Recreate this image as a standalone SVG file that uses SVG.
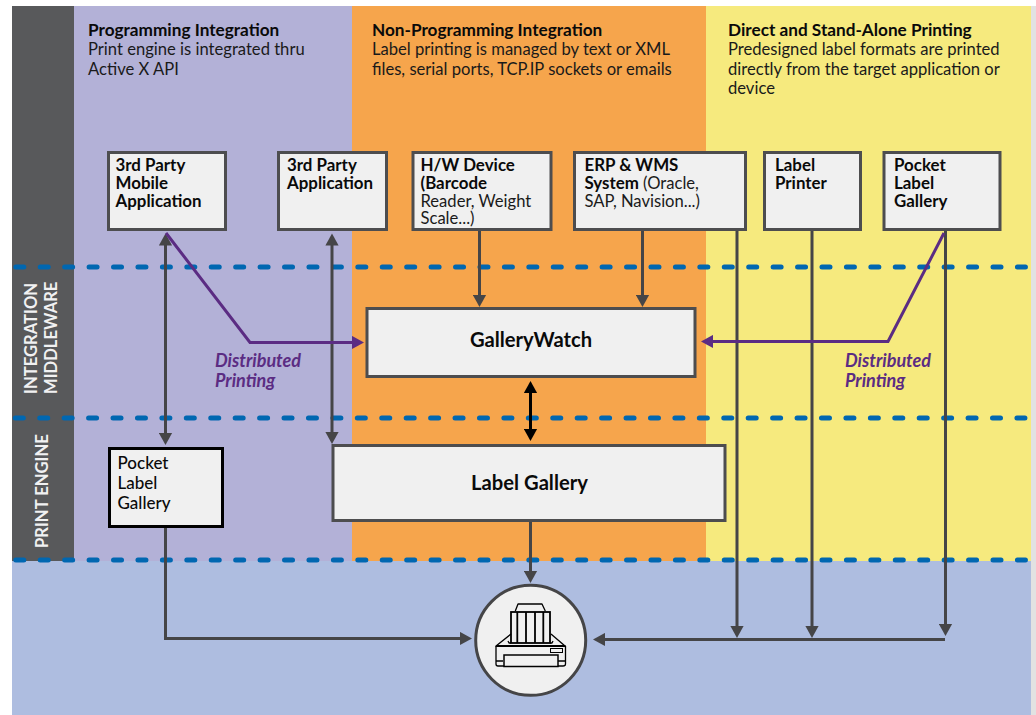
<svg xmlns="http://www.w3.org/2000/svg" width="1036" height="715" viewBox="0 0 1036 715">
<defs>
<style>
text{font-family:"Lato","Open Sans","Liberation Sans",sans-serif;fill:#1a1a1a}
.h{font-size:17.2px;font-weight:700;fill:#0a0a0a}
.d{font-size:16.6px;font-weight:400}
.b{font-size:16.9px;font-weight:700;fill:#0a0a0a}
.n{font-size:16.6px;font-weight:400}
.m{font-size:17px;font-weight:500;fill:#0a0a0a}
.t{font-size:20.2px;font-weight:700;fill:#0a0a0a;text-anchor:middle}
.p{font-size:18px;font-weight:700;font-style:italic;fill:#5b2c83}
.s{font-size:16.6px;font-weight:700;fill:#f1f1f2}
.box{fill:#f0f0f0;stroke:#4d4d4f;stroke-width:3}
.dash{fill:none;stroke:#0067b1;stroke-width:5;stroke-linecap:round;stroke-dasharray:8 16.43}
.c{fill:none;stroke:#454547;stroke-width:3}
.k{fill:none;stroke:#000;stroke-width:3}
.v{fill:none;stroke:#5b2c83;stroke-width:3}
.pr{fill:none;stroke:#000;stroke-width:1.3;stroke-linejoin:round}
</style>
<marker id="a" markerUnits="userSpaceOnUse" markerWidth="14" markerHeight="14" refX="1" refY="7" orient="auto-start-reverse"><path d="M0 0.4L12 7L0 13.6z" fill="#454547"/></marker>
<marker id="ak" markerUnits="userSpaceOnUse" markerWidth="14" markerHeight="14" refX="1" refY="7" orient="auto-start-reverse"><path d="M0 0.4L12 7L0 13.6z" fill="#000"/></marker>
<marker id="av" markerUnits="userSpaceOnUse" markerWidth="14" markerHeight="14" refX="1" refY="7" orient="auto-start-reverse"><path d="M0 0.4L12 7L0 13.6z" fill="#5b2c83"/></marker>
</defs>
<g id="background">
<rect width="1036" height="715" fill="#fff"/>
<rect x="1031" y="6" width="5" height="709" fill="#e2e2e2"/>
<rect x="12" y="6" width="62" height="555" fill="#58595b"/>
<rect x="74" y="6" width="278" height="555" fill="#b3b1d7"/>
<rect x="352" y="6" width="354" height="555" fill="#f6a54c"/>
<rect x="706" y="6" width="325" height="555" fill="#f6ea7e"/>
<rect x="12" y="561" width="1019" height="154" fill="#aebde0"/>
</g>
<g id="bands">
<path class="dash" d="M15.800 267H1030M15.300 418H1030M15.800 560H1030"/>
<text class="s" transform="translate(37 394) rotate(-90)">INTEGRATION</text>
<text class="s" transform="translate(57 394) rotate(-90)">MIDDLEWARE</text>
<text class="s" transform="translate(48 548) rotate(-90)">PRINT ENGINE</text>
</g>
<g id="headers">
<text class="h" x="88" y="35.500">Programming Integration</text>
<text class="d" x="88" y="54.500">Print engine is integrated thru</text>
<text class="d" x="88" y="74.500">Active X API</text>
<text class="h" x="372" y="35.500">Non-Programming Integration</text>
<text class="d" x="372" y="54.500">Label printing is managed by text or XML</text>
<text class="d" x="372" y="74.500">files, serial ports, TCP.IP sockets or emails</text>
<text class="h" x="728" y="35.500">Direct and Stand-Alone Printing</text>
<text class="d" x="728" y="54.500">Predesigned label formats are printed</text>
<text class="d" x="728" y="74.500">directly from the target application or</text>
<text class="d" x="728" y="93.500">device</text>
</g>
<g id="connectors">
<path class="c" marker-start="url(#a)" marker-end="url(#a)" d="M165.500 244.500V434"/>
<path class="c" marker-start="url(#a)" marker-end="url(#a)" d="M332 244.500V433"/>
<path class="c" marker-end="url(#a)" d="M479.500 231V296"/>
<path class="c" marker-end="url(#a)" d="M642.500 231V296"/>
<path class="c" marker-end="url(#a)" d="M737 231V627"/>
<path class="c" marker-end="url(#a)" d="M812 231V627"/>
<path class="c" marker-end="url(#a)" d="M945.500 231V625"/>
<path class="c" marker-end="url(#a)" d="M945 639.500H604"/>
<path class="c" marker-end="url(#a)" d="M165.500 528V638.500H461"/>
<path class="c" marker-end="url(#a)" d="M530.500 522V572"/>
<path class="k" marker-start="url(#ak)" marker-end="url(#ak)" d="M530.500 392V430"/>
<path class="v" marker-end="url(#av)" d="M166 233L250 342.500H353"/>
<path class="v" marker-end="url(#av)" d="M944 233L888 341.500H712"/>
</g>
<g id="n1"><rect class="box" x="108.500" y="152.500" width="117" height="77"/>
<text class="b" x="115.500" y="170.500">3rd Party</text><text class="b" x="115.500" y="188.500">Mobile</text><text class="b" x="115.500" y="206.500">Application</text></g>
<g id="n2"><rect class="box" x="278.500" y="152.500" width="108" height="77"/>
<text class="b" x="287" y="170.500">3rd Party</text><text class="b" x="287" y="188.500">Application</text></g>
<g id="n3"><rect class="box" x="413" y="152.500" width="138" height="77"/>
<text class="b" x="420.500" y="170.500">H/W Device</text><text class="b" x="420.500" y="188.500">(Barcode</text><text class="n" x="420.500" y="206.500">Reader, Weight</text><text class="n" x="420.500" y="224">Scale...)</text></g>
<g id="n4"><rect class="box" x="574.500" y="152.500" width="171" height="77"/>
<text class="b" x="584.500" y="170.500">ERP &amp; WMS</text><text x="584.500" y="188.500"><tspan class="b">System</tspan><tspan class="n"> (Oracle,</tspan></text><text class="n" x="584.500" y="206.500">SAP, Navision...)</text></g>
<g id="n5"><rect class="box" x="764.500" y="152.500" width="96" height="77"/>
<text class="b" x="775" y="170.500">Label</text><text class="b" x="775" y="188.500">Printer</text></g>
<g id="n6"><rect class="box" x="884" y="152.500" width="116" height="77"/>
<text class="b" x="894" y="170.500">Pocket</text><text class="b" x="894" y="188.500">Label</text><text class="b" x="894" y="206.500">Gallery</text></g>
<g id="n7"><rect class="box" x="367" y="308.500" width="328" height="68"/>
<text class="t" x="531" y="346.500">GalleryWatch</text></g>
<g id="n8"><rect class="box" x="333" y="445.500" width="392" height="75"/>
<text class="t" x="529.500" y="489.500">Label Gallery</text></g>
<g id="n9"><rect class="box" style="stroke:#000" x="109.500" y="448.500" width="113" height="78"/>
<text class="m" x="117.500" y="468.500">Pocket</text><text class="m" x="117.500" y="488.500">Label</text><text class="m" x="117.500" y="508.500">Gallery</text></g>
<g id="labels">
<text class="p" x="215" y="367">Distributed</text><text class="p" x="215" y="387">Printing</text>
<text class="p" x="845" y="367">Distributed</text><text class="p" x="845" y="387">Printing</text>
</g>
<g id="printer">
<circle cx="530.700" cy="640.300" r="55" fill="#f0f0f0" stroke="#454547" stroke-width="3"/>
<path class="pr" d="M515.300 611L518 604H542L545.300 611"/>
<rect x="511" y="612" width="39" height="31" fill="#f0f0f0" stroke="#000" stroke-width="1.800"/>
<path d="M517.300 612V643M526 612V643M535 612V643M543.300 612V643" stroke="#000" stroke-width="1.800"/>
<path class="pr" d="M511 634L496 646H565L551 634"/>
<path class="pr" d="M511 643H509L508 641M550 643H552L553 641"/>
<path d="M496 646H565.500" stroke="#000" stroke-width="1.800"/>
<path class="pr" d="M496 646V664Q496 666 498 666H563Q565.500 666 565.500 664V646"/>
<path class="pr" d="M496 661H503M558 661H565.500"/>
<rect x="504" y="655" width="54" height="11.500" fill="#f0f0f0" stroke="#000" stroke-width="1.500"/>
<rect x="550.500" y="648.500" width="12" height="4" fill="#f0f0f0" stroke="#000" stroke-width="1"/>
</g>
</svg>
